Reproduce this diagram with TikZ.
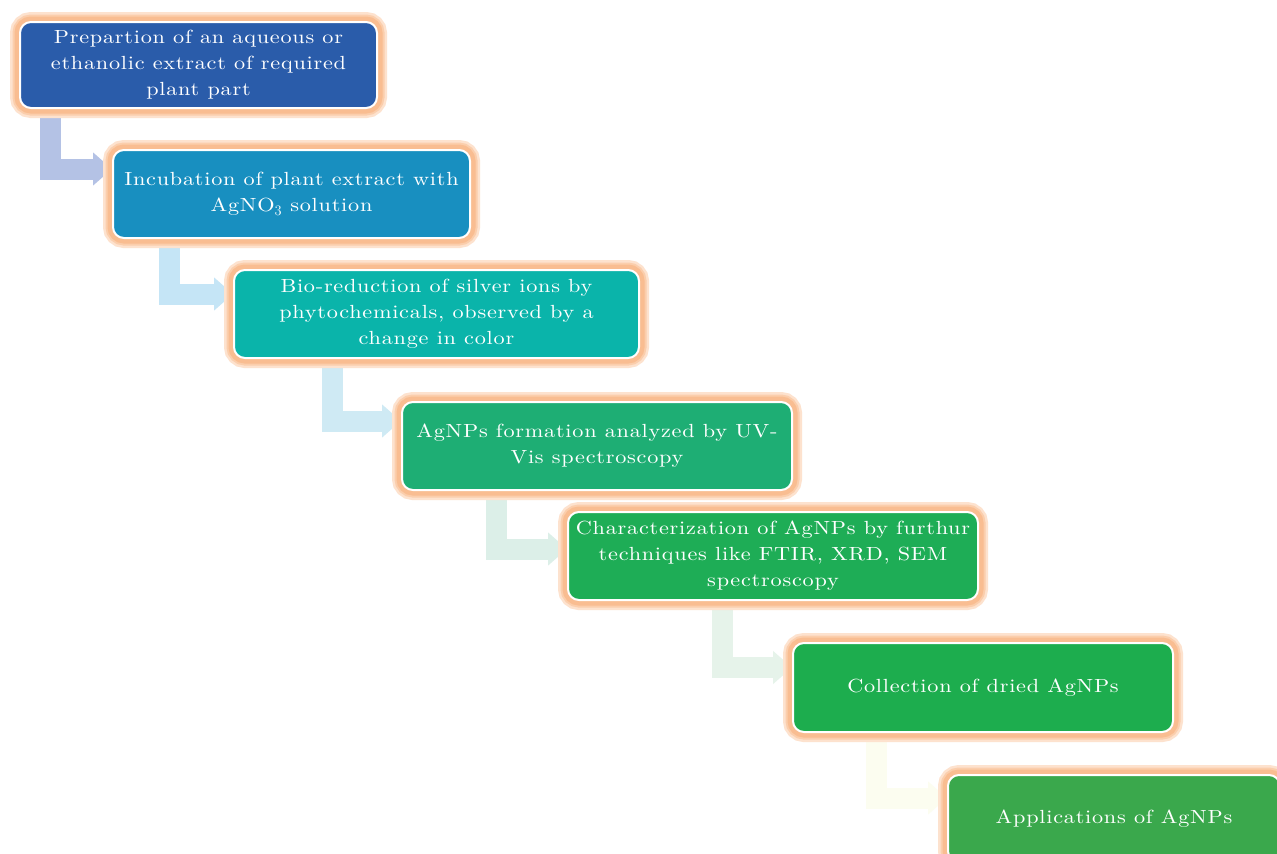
\documentclass[tikz,border=0pt]{standalone}
\usepackage{fontspec}
\newfontfamily\boxfont{lmroman10-regular.otf}[LetterSpace=4,FakeStretch=1.17]
\usetikzlibrary{arrows.meta}
\definecolor{cA}{RGB}{42,92,170}
\definecolor{cB}{RGB}{24,143,192}
\definecolor{cC}{RGB}{10,180,170}
\definecolor{cD}{RGB}{30,174,116}
\definecolor{cE}{RGB}{30,173,86}
\definecolor{cF}{RGB}{29,173,78}
\definecolor{cG}{RGB}{58,168,76}
\definecolor{aA}{RGB}{180,194,229}
\definecolor{aB}{RGB}{197,229,246}
\definecolor{aC}{RGB}{207,234,244}
\definecolor{aD}{RGB}{220,239,232}
\definecolor{aE}{RGB}{230,243,234}
\definecolor{aF}{RGB}{252,253,240}
\definecolor{glowout}{RGB}{253,226,206}
\definecolor{glowmid}{RGB}{251,206,172}
\definecolor{glowin}{RGB}{249,189,145}
\pgfdeclarelayer{bg}
\pgfsetlayers{bg,main}
\tikzset{
  stepbox/.style={rounded corners=11pt, draw=white, line width=2pt,
    text=white, align=center, inner sep=2pt,
    font=\boxfont\fontsize{19}{26}\selectfont,
    preaction={draw=glowout, line width=20pt},
    preaction={draw=glowmid, line width=15pt},
    preaction={draw=glowin, line width=11pt}},
  flowarrow/.style={line width=21pt, line join=miter,
    -{Triangle[width=32pt,length=19pt]}}
}
\begin{document}
\begin{tikzpicture}[x=1pt,y=-1pt]
\useasboundingbox (0,0) rectangle (1277,854);
\clip (0,0) rectangle (1277,854);
\node[stepbox, fill=cA, minimum width=357pt, minimum height=86pt] (n1) at (198.5,65)
  {Prepartion of an aqueous or\\ethanolic extract of required\\plant part};
\node[stepbox, fill=cB, minimum width=357pt, minimum height=88pt] (n2) at (291.5,194)
  {Incubation of plant extract with\\AgNO$_3$ solution};
\node[stepbox, fill=cC, minimum width=405pt, minimum height=88pt] (n3) at (436.5,314)
  {Bio-reduction of silver ions by\\phytochemicals, observed by a\\change in color};
\node[stepbox, fill=cD, minimum width=390pt, minimum height=88pt] (n4) at (597,446)
  {AgNPs formation analyzed by UV-\\Vis spectroscopy};
\node[stepbox, fill=cE, minimum width=410pt, minimum height=88pt] (n5) at (773,556)
  {Characterization of AgNPs by furthur\\techniques like FTIR, XRD, SEM\\spectroscopy};
\node[stepbox, fill=cF, minimum width=380pt, minimum height=89pt] (n6) at (983,687.5)
  {Collection of dried AgNPs};
\node[stepbox, fill=cG, minimum width=332pt, minimum height=87pt] (n7) at (1114,818.5)
  {Applications of AgNPs};
\begin{pgfonlayer}{bg}
\fill[white] (0,0) rectangle (1277,854);
\draw[flowarrow, draw=aA] ([xshift=31pt]n1.south west) |- ([yshift=25pt]n2.west);
\draw[flowarrow, draw=aB] ([xshift=57pt]n2.south west) |- ([yshift=20pt]n3.west);
\draw[flowarrow, draw=aC] ([xshift=99pt]n3.south west) |- ([yshift=25pt]n4.west);
\draw[flowarrow, draw=aD] ([xshift=95pt]n4.south west) |- ([yshift=7pt]n5.west);
\draw[flowarrow, draw=aE] ([xshift=155pt]n5.south west) |- ([yshift=20pt]n6.west);
\draw[flowarrow, draw=aF] ([xshift=84pt]n6.south west) |- ([yshift=20.5pt]n7.west);
\end{pgfonlayer}
\end{tikzpicture}
\end{document}
